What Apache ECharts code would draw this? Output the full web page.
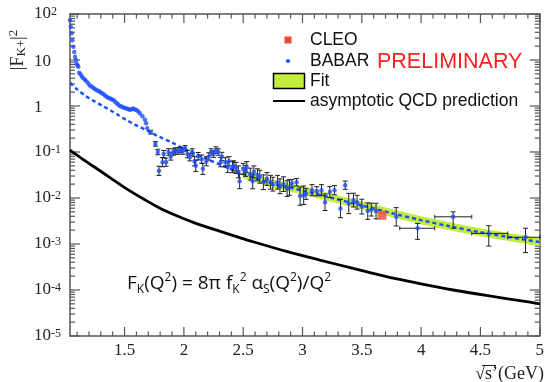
<!DOCTYPE html>
<html>
<head>
<meta charset="utf-8">
<script src="https://cdn.jsdelivr.net/npm/echarts@6/dist/echarts.min.js"></script>
<style>
    html, body { margin: 0; padding: 0; background: #fff; }
    #chart { width: 547px; height: 382px; }
</style>
</head>
<body>
<div id="chart"></div>
<script>
// BABAR threshold region, points without visible error bars
const babarLowX = [1.040, 1.046, 1.054, 1.060, 1.068, 1.076, 1.082, 1.090, 1.096, 1.104, 1.110, 1.118, 1.128, 1.140,
    1.152, 1.166, 1.180, 1.194, 1.208, 1.222, 1.236, 1.250, 1.265, 1.280, 1.293, 1.306, 1.320, 1.335, 1.349, 1.363,
    1.377, 1.391, 1.405, 1.419, 1.433, 1.447, 1.461, 1.475, 1.489, 1.503, 1.518, 1.531, 1.545, 1.559, 1.573, 1.588,
    1.602, 1.616, 1.630, 1.651, 1.672, 1.682, 1.691];
const babarLowY = [73, 53, 38, 27, 19.5, 15, 11.8, 10, 8.3, 7.6, 7.1, 5.3, 4.9, 4.4,
    4.0, 3.7, 3.4, 3.1, 2.8, 2.65, 2.5, 2.35, 2.2, 2.12, 2.05, 1.92, 1.82, 1.7, 1.58, 1.52,
    1.45, 1.4, 1.35, 1.25, 1.15, 1.08, 1.0, 0.97, 0.93, 0.9, 0.88, 0.85, 0.83, 0.85, 0.88, 0.84,
    0.81, 0.76, 0.69, 0.6, 0.5, 0.42, 0.33];

// BABAR points with error bars: [x, y, half size of the bar in decades]
const babarErr = [
    [1.72, 0.27, 0.04], [1.76, 0.15, 0.05], [1.78, 0.10, 0.06], [1.79, 0.039, 0.1], [1.82, 0.06, 0.1],
    [1.83, 0.09, 0.08], [1.85, 0.06, 0.09], [1.87, 0.10, 0.07], [1.89, 0.08, 0.08], [1.91, 0.10, 0.07],
    [1.93, 0.105, 0.07], [1.95, 0.105, 0.07], [1.97, 0.11, 0.06], [1.99, 0.105, 0.07], [2.01, 0.12, 0.06],
    [2.03, 0.09, 0.08], [2.05, 0.077, 0.08], [2.07, 0.10, 0.07], [2.09, 0.063, 0.1], [2.10, 0.05, 0.12],
    [2.12, 0.081, 0.08], [2.15, 0.07, 0.09], [2.16, 0.043, 0.12], [2.19, 0.063, 0.1], [2.21, 0.08, 0.08],
    [2.23, 0.10, 0.07], [2.25, 0.09, 0.07], [2.27, 0.11, 0.07], [2.29, 0.10, 0.07], [2.31, 0.06, 0.1],
    [2.32, 0.08, 0.09], [2.35, 0.06, 0.1], [2.37, 0.047, 0.12], [2.38, 0.063, 0.1], [2.41, 0.047, 0.12],
    [2.42, 0.05, 0.11], [2.44, 0.045, 0.12], [2.46, 0.037, 0.13], [2.47, 0.023, 0.16], [2.50, 0.043, 0.12],
    [2.52, 0.039, 0.12], [2.53, 0.047, 0.12], [2.56, 0.033, 0.13], [2.58, 0.023, 0.16], [2.59, 0.037, 0.13],
    [2.62, 0.032, 0.13], [2.64, 0.029, 0.14], [2.67, 0.022, 0.16], [2.70, 0.026, 0.14], [2.73, 0.022, 0.15],
    [2.75, 0.020, 0.15], [2.79, 0.022, 0.15], [2.81, 0.018, 0.16], [2.84, 0.020, 0.16], [2.87, 0.016, 0.17],
    [2.89, 0.017, 0.17], [2.91, 0.021, 0.08], [2.95, 0.022, 0.08], [2.98, 0.011, 0.2], [3.01, 0.0115, 0.2],
    [3.03, 0.0123, 0.12], [3.08, 0.0148, 0.12], [3.12, 0.014, 0.1], [3.16, 0.0148, 0.12], [3.19, 0.0081, 0.18],
    [3.23, 0.0135, 0.12], [3.27, 0.0148, 0.1], [3.32, 0.0059, 0.2], [3.36, 0.019, 0.09], [3.39, 0.0076, 0.22],
    [3.43, 0.009, 0.15], [3.46, 0.0081, 0.15], [3.50, 0.0065, 0.16], [3.55, 0.0052, 0.18], [3.58, 0.0056, 0.14],
    [3.62, 0.0052, 0.17], [3.79, 0.0039, 0.2]
];
// wide bins at high mass: [x, y, yLow, yHigh, xLow, xHigh]
const babarWide = [
    [3.97, 0.0022, 0.00126, 0.0028, 3.82, 4.115],
    [4.27, 0.0039, 0.0022, 0.005, 4.115, 4.427],
    [4.57, 0.0017, 0.0009, 0.0025, 4.427, 4.73],
    [4.88, 0.0014, 0.00065, 0.0022, 4.73, 5.0]
];
const cleoX = [3.67];
const cleoY = [0.0042];

// fit curve (blue dashed) and its band
const fitX = [1.04, 1.1, 1.17, 1.24, 1.31, 1.38, 1.45, 1.52, 1.59, 1.66, 1.73, 1.8, 1.9, 2.0, 2.1, 2.2, 2.3,
    2.4, 2.5, 2.6, 2.7, 2.8, 2.9, 3.0, 3.25, 3.5, 3.75, 4.0, 4.25, 4.5, 4.75, 5.0];
const fitY = [3.2, 2.3, 1.66, 1.29, 1.02, 0.81, 0.63, 0.49, 0.39, 0.32, 0.26, 0.21, 0.16, 0.117, 0.089, 0.069, 0.054,
    0.042, 0.033, 0.027, 0.0224, 0.019, 0.0166, 0.0145, 0.01, 0.0069, 0.0047, 0.0033, 0.0024, 0.0018, 0.0014, 0.0011];
const bandX = [2.5, 2.75, 3.0, 3.25, 3.5, 3.75, 4.0, 4.25, 4.5, 4.75, 5.0];
const bandLo = [0.027, 0.0168, 0.0119, 0.0082, 0.00566, 0.00385, 0.0027, 0.00197, 0.00148, 0.00115, 0.0009];
const bandHi = [0.040, 0.025, 0.0177, 0.0122, 0.0084, 0.00573, 0.00403, 0.00293, 0.0022, 0.00171, 0.00134];

// asymptotic QCD prediction
const qcdX = [1.04, 1.14, 1.236, 1.38, 1.518, 1.66, 1.798, 1.94, 2.079, 2.3, 2.47, 2.584, 2.865, 3.146, 3.427,
    3.708, 3.989, 4.27, 4.55, 4.83, 5.0];
const qcdY = [0.110, 0.072, 0.049, 0.0275, 0.0158, 0.0095, 0.006, 0.0041, 0.00295, 0.0019, 0.00138, 0.00112,
    0.00069, 0.000447, 0.000295, 0.000195, 0.000138, 0.0001, 0.000076, 0.000059, 0.00005];

// axis range and ticks
const xMin = 1.04, xMax = 5;
const yMin = 1e-5, yMax = 100;
const xLabels = [1.5, 2, 2.5, 3, 3.5, 4, 4.5, 5];
const yLabels = [1e-5, 1e-4, 1e-3, 1e-2, 1e-1, 1, 10, 100];

const xMinor = [];
for (let i = 11; i < 50; i++) {
    if (i % 5 !== 0) xMinor.push(i / 10);
}
const yMinor = [];
for (let e = -5; e <= 1; e++) {
    for (let k = 2; k <= 9; k++) yMinor.push(Number((k * Math.pow(10, e)).toPrecision(3)));
}

const blue = '#1f4fff';
const red = '#ee4a36';
const green = '#c0ee3a';
const axisCol = '#555';
const serif = '"Liberation Serif", "DejaVu Serif", serif';
const sans = '"Liberation Sans", Arial, sans-serif';

const makeX = (position, labels) => ({
    type: 'value', position: position, min: xMin, max: xMax,
    axisLine: { show: true, onZero: false, lineStyle: { color: axisCol, width: 1.5 } },
    axisTick: { show: false },
    axisLabel: labels ? {
        customValues: xLabels.slice(), fontFamily: serif, fontSize: 17, color: '#222', margin: 6,
        formatter: v => String(v)
    } : { show: false },
    splitLine: { show: false }
});
const makeY = (position, labels) => ({
    type: 'log', logBase: 10, position: position, min: yMin, max: yMax,
    axisLine: { show: true, onZero: false, lineStyle: { color: axisCol, width: 1.5 } },
    axisTick: { show: false },
    axisLabel: labels ? {
        customValues: yLabels.slice(), align: 'left', margin: 36, color: '#222',
        formatter: function (v) {
            const e = Math.round(Math.log10(v));
            if (e === 0) return '{n|1}';
            if (e === 1) return '{n|10}';
            return '{b|10}{s|' + e + '}';
        },
        rich: {
            n: { fontFamily: serif, fontSize: 17, color: '#222', padding: [4, 0, 0, 0] },
            b: { fontFamily: serif, fontSize: 17, lineHeight: 17, color: '#222', verticalAlign: 'bottom' },
            s: { fontFamily: serif, fontSize: 12, lineHeight: 12, color: '#222', verticalAlign: 'top', padding: [0, 0, 12, 0] }
        }
    } : { show: false },
    splitLine: { show: false }
});

const graphics = [
    // y axis title
    {
        type: 'text', x: 18, y: 50, rotation: Math.PI / 2,
        style: {
            text: '{a||F}{k|K+}{a||}{s|2}', align: 'center', verticalAlign: 'middle',
            rich: {
                a: { fontFamily: serif, fontSize: 18, lineHeight: 20, fill: '#222' },
                k: { fontFamily: serif, fontSize: 13, lineHeight: 12, padding: [8, 0, 0, 0], fill: '#222' },
                s: { fontFamily: serif, fontSize: 13, lineHeight: 12, padding: [0, 0, 8, 0], fill: '#222' }
            }
        }
    },
    // x axis title
    {
        type: 'text', x: 544, y: 374,
        style: { text: '\u221As\u2019(GeV)', font: '18px ' + serif, fill: '#222', align: 'right', verticalAlign: 'middle' }
    },
    { type: 'line', shape: { x1: 482, y1: 365.5, x2: 496, y2: 365.5 }, style: { stroke: '#222', lineWidth: 1 } },
    // legend
    { type: 'rect', shape: { x: 284.5, y: 36.5, width: 7, height: 7 }, style: { fill: red } },
    { type: 'text', x: 310, y: 40, style: { text: 'CLEO', font: '17.5px ' + sans, fill: '#111', verticalAlign: 'middle' } },
    { type: 'circle', shape: { cx: 288, cy: 61, r: 2 }, style: { fill: blue } },
    { type: 'text', x: 310, y: 61, style: { text: 'BABAR', font: '17.5px ' + sans, fill: '#111', verticalAlign: 'middle' } },
    { type: 'text', x: 377, y: 62.5, style: { text: 'PRELIMINARY', font: '21.5px ' + sans, fill: '#ff2020', verticalAlign: 'middle' } },
    { type: 'rect', shape: { x: 273.5, y: 73.5, width: 31, height: 15 }, style: { fill: green, stroke: '#000', lineWidth: 1.5 } },
    { type: 'text', x: 310, y: 81, style: { text: 'Fit', font: '17.5px ' + sans, fill: '#111', verticalAlign: 'middle' } },
    { type: 'line', shape: { x1: 273, y1: 101, x2: 305, y2: 101 }, style: { stroke: '#000', lineWidth: 2 } },
    { type: 'text', x: 310, y: 101, style: { text: 'asymptotic QCD prediction', font: '17.5px ' + sans, fill: '#111', verticalAlign: 'middle' } },
    // formula
    {
        type: 'text', x: 127, y: 284,
        style: {
            text: '{m|F}{sub|K}{m|(Q}{sup|2}{m|) = 8\u03C0 f}{sub|K}{sup|2}{m| \u03B1}{sub|S}{m|(Q}{sup|2}{m|)/Q}{sup|2}',
            verticalAlign: 'middle',
            rich: {
                m: { fontFamily: '"Open Sans", sans-serif', fontSize: 19, lineHeight: 24, fill: '#111' },
                sub: { fontFamily: '"Open Sans", sans-serif', fontSize: 12, lineHeight: 12, padding: [12, 0, 0, 0], fill: '#111' },
                sup: { fontFamily: '"Open Sans", sans-serif', fontSize: 12, lineHeight: 12, padding: [0, 0, 12, 0], fill: '#111' }
            }
        }
    }
];

const chart = echarts.init(document.getElementById('chart'));

const option = {
    animation: false,
    backgroundColor: '#fff',
    grid: { left: 70, right: 7, top: 14, bottom: 46 },
    xAxis: [makeX('bottom', true), makeX('top', false)],
    yAxis: [makeY('left', true), makeY('right', false)],
    series: [
        {
            // fit band
            type: 'custom',
            xAxisIndex: 0, yAxisIndex: 0,
            data: bandX.map((x, i) => [x, bandLo[i], bandHi[i]]),
            encode: { x: 0, y: 1 },
            renderItem: function (params, api) {
                if (params.dataIndex !== 0) return null;
                const pts = [];
                bandX.forEach((x, i) => pts.push(api.coord([x, bandLo[i]])));
                for (let i = bandX.length - 1; i >= 0; i--) pts.push(api.coord([bandX[i], bandHi[i]]));
                return { type: 'polygon', shape: { points: pts }, style: { fill: green } };
            },
            z: 1
        },
        {
            type: 'line',
            xAxisIndex: 0, yAxisIndex: 0,
            data: qcdX.map((x, i) => [x, qcdY[i]]),
            showSymbol: false, smooth: 0.3,
            lineStyle: { color: '#000', width: 2.8 },
            z: 2
        },
        {
            type: 'line',
            xAxisIndex: 0, yAxisIndex: 0,
            data: fitX.map((x, i) => [x, fitY[i]]),
            showSymbol: false, smooth: 0.3,
            lineStyle: { color: blue, width: 2.5, type: [4, 3] },
            z: 3
        },
        {
            // error bars
            type: 'custom',
            xAxisIndex: 0, yAxisIndex: 0,
            data: babarErr,
            encode: { x: 0, y: 1 },
            renderItem: function (params, api) {
                const x = api.value(0), y = api.value(1), e = api.value(2);
                const hi = api.coord([x, y * Math.pow(10, e)]);
                const lo = api.coord([x, y / Math.pow(10, e)]);
                const st = { stroke: '#222', lineWidth: 1 };
                return {
                    type: 'group', children: [
                        { type: 'line', shape: { x1: hi[0], y1: hi[1], x2: lo[0], y2: lo[1] }, style: st },
                        { type: 'line', shape: { x1: hi[0] - 2.5, y1: hi[1], x2: hi[0] + 2.5, y2: hi[1] }, style: st },
                        { type: 'line', shape: { x1: lo[0] - 2.5, y1: lo[1], x2: lo[0] + 2.5, y2: lo[1] }, style: st }
                    ]
                };
            },
            z: 4
        },
        {
            type: 'custom',
            xAxisIndex: 0, yAxisIndex: 0,
            data: babarWide,
            encode: { x: 0, y: 1 },
            renderItem: function (params, api) {
                const hi = api.coord([api.value(0), api.value(3)]);
                const lo = api.coord([api.value(0), api.value(2)]);
                const lft = api.coord([api.value(4), api.value(1)]);
                const rgt = api.coord([api.value(5), api.value(1)]);
                const st = { stroke: '#222', lineWidth: 1 };
                return {
                    type: 'group', children: [
                        { type: 'line', shape: { x1: hi[0], y1: hi[1], x2: lo[0], y2: lo[1] }, style: st },
                        { type: 'line', shape: { x1: hi[0] - 2.5, y1: hi[1], x2: hi[0] + 2.5, y2: hi[1] }, style: st },
                        { type: 'line', shape: { x1: lo[0] - 2.5, y1: lo[1], x2: lo[0] + 2.5, y2: lo[1] }, style: st },
                        { type: 'line', shape: { x1: lft[0], y1: lft[1], x2: rgt[0], y2: rgt[1] }, style: st },
                        { type: 'line', shape: { x1: lft[0], y1: lft[1] - 2, x2: lft[0], y2: lft[1] + 2 }, style: st },
                        { type: 'line', shape: { x1: rgt[0], y1: rgt[1] - 2, x2: rgt[0], y2: rgt[1] + 2 }, style: st }
                    ]
                };
            },
            z: 4
        },
        {
            type: 'scatter',
            xAxisIndex: 0, yAxisIndex: 0,
            data: babarLowX.map((x, i) => [x, babarLowY[i]])
                .concat(babarErr.map(p => [p[0], p[1]]))
                .concat(babarWide.map(p => [p[0], p[1]])),
            symbol: 'circle', symbolSize: 4.5,
            itemStyle: { color: blue },
            z: 5
        },
        {
            type: 'scatter',
            xAxisIndex: 0, yAxisIndex: 0,
            data: cleoX.map((x, i) => [x, cleoY[i]]),
            symbol: 'rect', symbolSize: 9,
            itemStyle: { color: red },
            z: 6
        }
    ],
    graphic: graphics
};

chart.setOption(option);

// inward ticks on all four sides of the frame, placed through the axis scales
const toPxX = v => chart.convertToPixel({ xAxisIndex: 0 }, v);
const toPxY = v => chart.convertToPixel({ yAxisIndex: 0 }, v);
const frameL = toPxX(xMin), frameR = toPxX(xMax), frameB = toPxY(yMin), frameT = toPxY(yMax);
const tickLines = [];
const addTick = (xa, ya, xb, yb) => tickLines.push({
    type: 'line', silent: true,
    shape: { x1: xa, y1: ya, x2: xb, y2: yb },
    style: { stroke: axisCol, lineWidth: 1.2 }
});
xLabels.forEach(v => { addTick(toPxX(v), frameB, toPxX(v), frameB - 9); addTick(toPxX(v), frameT, toPxX(v), frameT + 9); });
xMinor.forEach(v => { addTick(toPxX(v), frameB, toPxX(v), frameB - 4.5); addTick(toPxX(v), frameT, toPxX(v), frameT + 4.5); });
yLabels.forEach(v => { addTick(frameL, toPxY(v), frameL + 10, toPxY(v)); addTick(frameR, toPxY(v), frameR - 10, toPxY(v)); });
yMinor.forEach(v => { addTick(frameL, toPxY(v), frameL + 5, toPxY(v)); addTick(frameR, toPxY(v), frameR - 5, toPxY(v)); });

chart.setOption({ graphic: graphics.concat([{ type: 'group', z: 100, children: tickLines }]) });
</script>
</body>
</html>
